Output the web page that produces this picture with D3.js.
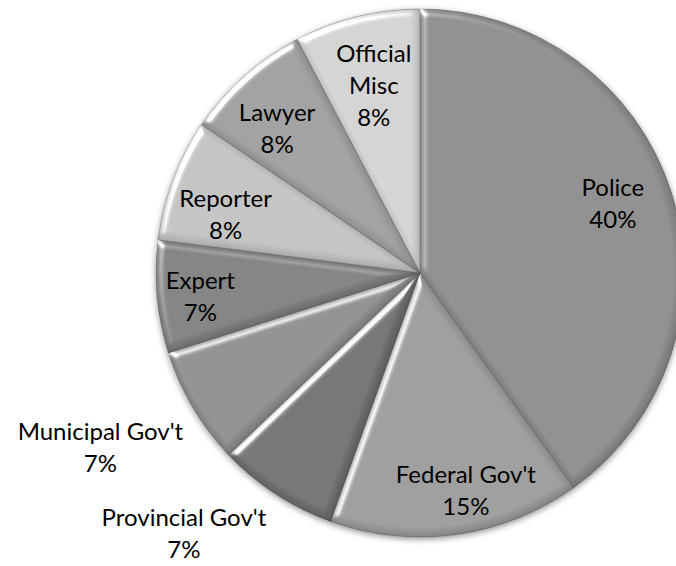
<!DOCTYPE html>
<html>
<head>
<meta charset="utf-8">
<script src="https://cdn.jsdelivr.net/npm/d3@7"></script>
<style>
  body { margin: 0; background: #fff; }
  svg { display: block; }
  .lbl { font-family: Lato, "Noto Sans", sans-serif; font-size: 24px; fill: #000; }
</style>
</head>
<body>
<svg id="chart" width="676" height="566"></svg>
<script>
// slice data, clockwise from 12 o'clock
const categories = ["Police", "Federal Gov't", "Provincial Gov't", "Municipal Gov't", "Expert", "Reporter", "Lawyer", "Official Misc"];
const shares = [40.1, 15.4, 7.4, 7.2, 6.9, 7.5, 7.8, 7.7];
const labelLines = [["Police"], ["Federal Gov't"], ["Provincial Gov't"], ["Municipal Gov't"], ["Expert"], ["Reporter"], ["Lawyer"], ["Official", "Misc"]];

const fills = ["#898989", "#999999", "#6d6d6d", "#8b8b8b", "#7d7d7d", "#c0c0c0", "#9c9c9c", "#d0d0d0"];

// label placement: radius from center and angle nudge (degrees)
const labelPlace = {
    "Police": { r: 205, da: -2 },
    "Federal Gov't": { r: 222, da: -4 },
    "Provincial Gov't": { r: 352, da: 9 },
    "Municipal Gov't": { r: 364, da: 2 },
    "Expert": { r: 221, da: -1 },
    "Reporter": { r: 203, da: -4 },
    "Lawyer": { r: 203, da: -3 },
    "Official Misc": { r: 193, da: 0 }
};

const cx = 420, cy = 273, R = 264;

const svg = d3.select("#chart");
const defs = svg.append("defs");

// bevel: light rim on the upper-left edges, dark rim on the lower-right ones
const bevel = defs.append("filter").attr("id", "bevel")
    .attr("x", "-5%").attr("y", "-5%").attr("width", "110%").attr("height", "110%");
bevel.append("feGaussianBlur").attr("in", "SourceAlpha").attr("stdDeviation", 3.5).attr("result", "blur");
const spec = bevel.append("feSpecularLighting").attr("in", "blur")
    .attr("surfaceScale", 6).attr("specularConstant", 1.0).attr("specularExponent", 16)
    .attr("lighting-color", "#fff").attr("result", "spec");
spec.append("feDistantLight").attr("azimuth", 225).attr("elevation", 18);
bevel.append("feComposite").attr("in", "spec").attr("in2", "SourceAlpha").attr("operator", "in").attr("result", "specIn");
bevel.append("feOffset").attr("in", "blur").attr("dx", -2.5).attr("dy", -2.5).attr("result", "offBlur");
bevel.append("feComposite").attr("in", "SourceAlpha").attr("in2", "offBlur")
    .attr("operator", "arithmetic").attr("k2", 1).attr("k3", -1).attr("result", "innerEdge");
bevel.append("feFlood").attr("flood-color", "#000").attr("flood-opacity", 0.4).attr("result", "dark");
bevel.append("feComposite").attr("in", "dark").attr("in2", "innerEdge").attr("operator", "in").attr("result", "shadowEdge");
const merge = bevel.append("feMerge").attr("result", "base");
merge.append("feMergeNode").attr("in", "SourceGraphic");
merge.append("feMergeNode").attr("in", "shadowEdge");
bevel.append("feComposite").attr("in", "base").attr("in2", "specIn")
    .attr("operator", "arithmetic").attr("k1", 0).attr("k2", 1).attr("k3", 1).attr("k4", 0);

const shadow = defs.append("filter").attr("id", "shadow")
    .attr("x", "-10%").attr("y", "-10%").attr("width", "120%").attr("height", "120%");
shadow.append("feDropShadow").attr("dx", 0).attr("dy", 2).attr("stdDeviation", 3)
    .attr("flood-color", "#000").attr("flood-opacity", 0.45);

const pie = d3.pie().sort(null).value(d => d);
const arcs = pie(shares);
const arc = d3.arc().innerRadius(0).outerRadius(R);

const g = svg.append("g").attr("transform", `translate(${cx},${cy})`);

g.append("circle").attr("r", R).attr("fill", "#888").attr("filter", "url(#shadow)");

g.selectAll(".slice")
    .data(arcs)
    .enter()
    .append("path")
    .attr("class", "slice")
    .attr("d", arc)
    .attr("fill", (d, i) => fills[i])
    .attr("stroke", "rgba(70,70,70,0.5)")
    .attr("stroke-width", 0.6)
    .attr("filter", "url(#bevel)");

const labels = g.selectAll(".lbl")
    .data(arcs)
    .enter()
    .append("text")
    .attr("class", "lbl")
    .attr("text-anchor", "middle")
    .attr("transform", (d, i) => {
        const p = labelPlace[categories[i]];
        const a = (d.startAngle + d.endAngle) / 2 + p.da * Math.PI / 180;
        return `translate(${p.r * Math.sin(a)},${-p.r * Math.cos(a)})`;
    });

labels.each(function (d, i) {
    const lines = labelLines[i].concat([Math.round(shares[i]) + "%"]);
    const t = d3.select(this);
    const lh = 32;
    const y0 = -(lines.length - 1) * lh / 2;
    lines.forEach((s, k) => {
        t.append("tspan").attr("x", 0).attr("y", y0 + k * lh).attr("dy", "0.35em").text(s);
    });
});
</script>
</body>
</html>
